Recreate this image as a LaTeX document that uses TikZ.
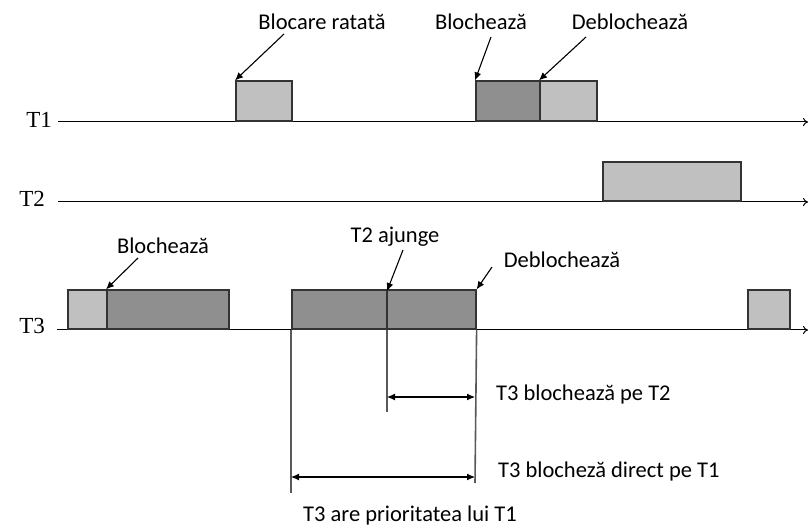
\documentclass[tikz,border=0pt]{standalone}
\usepackage{fontspec}
\setmainfont{Carlito}
\newfontfamily\timesf{Liberation Serif}
\usetikzlibrary{arrows.meta,positioning}

\definecolor{lightgr}{HTML}{C0C0C0}
\definecolor{darkgr}{HTML}{8F8F8F}
\definecolor{edgegr}{HTML}{333333}

\tikzset{
    lightbox/.style={draw=edgegr, line width=1.6pt, fill=lightgr, inner sep=0pt, anchor=south west},
    darkbox/.style={draw=edgegr, line width=1.6pt, fill=darkgr, inner sep=0pt, anchor=south west},
    axis/.style={line width=1pt, -{To[length=5pt,width=8pt]}},
    pointer/.style={line width=1.1pt, -{Latex[length=8pt,width=7pt]}},
    span/.style={line width=1.1pt, {Latex[length=8pt,width=7pt]}-{Latex[length=8pt,width=7pt]}},
    mark line/.style={draw=gray!70!black, line width=1.6pt},
    lbl/.style={font=\fontsize{22.5}{24}\selectfont, inner sep=1pt},
    tname/.style={font=\fontsize{23}{25}\timesf, anchor=east, inner sep=1pt}
}

\begin{document}
\begin{tikzpicture}[x=1pt, y=-1pt]
    \useasboundingbox (0,0) rectangle (808,526);

    % time axes
    \node[tname] (t1) at (53,120) {T1};
    \node[tname] (t2) at (46,199) {T2};
    \node[tname] (t3) at (46,326) {T3};
    \coordinate (s1) at (58,122);
    \coordinate (s2) at (58,202);
    \coordinate (s3) at (57,330);
    \coordinate (e1) at (808,122);
    \coordinate (e2) at (808,202);
    \coordinate (e3) at (808,330);
    \draw[axis] (s1) -- (e1);
    \draw[axis] (s2) -- (e2);
    \draw[axis] (s3) -- (e3);

    % T1
    \node[lightbox, minimum width=56pt, minimum height=40pt] (a1) at (235,122) {};
    \node[darkbox, minimum width=64pt, minimum height=40pt] (a2) at (475,122) {};
    \node[lightbox, minimum width=57pt, minimum height=40pt] (a3) at (539,122) {};

    % T2
    \node[lightbox, minimum width=138pt, minimum height=39pt] (b1) at (602,202) {};

    % T3
    \node[lightbox, minimum width=39pt, minimum height=39pt] (c1) at (67,330) {};
    \node[darkbox, minimum width=122pt, minimum height=39pt] (c2) at (106,330) {};
    \node[darkbox, minimum width=184pt, minimum height=39pt] (c3) at (291,330) {};
    \node[lightbox, minimum width=42pt, minimum height=39pt] (c4) at (747,330) {};
    \draw[edgegr, line width=1.6pt] (387,291) -- (387,330);

    % labels and pointers
    \node[lbl] (l1) at (322,22) {Blocare ratată};
    \node[lbl] (l2) at (481,22) {Blochează};
    \node[lbl] (l3) at (630,22) {Deblochează};
    \node[lbl] (l4) at (163,246) {Blochează};
    \node[lbl] (l5) at (395,237) {T2 ajunge};
    \node[lbl] (l6) at (562,260) {Deblochează};
    \draw[pointer] (284,34) -- (a1.north west);
    \draw[pointer] (491,37) -- (a2.north west);
    \draw[pointer] (586,37) -- (a3.north west);
    \draw[pointer] (138,258) -- (c2.north west);
    \draw[pointer] (403,250) -- (387,291);
    \draw[pointer] (492,267) -- (c3.north east);

    % intervals
    \coordinate (v1) at (291,493);
    \coordinate (v2) at (387,412);
    \coordinate (v3) at (475,483);
    \draw[mark line] (c3.south west) -- (v1);
    \draw[mark line] (387,330) -- (v2);
    \draw[mark line] (c3.south east) -- (v3);
    \draw[span] (387,397) -- (475,397);
    \draw[span] (291,477) -- (475,477);
    \node[lbl, anchor=west] (l7) at (495,395) {T3 blochează pe T2};
    \node[lbl, anchor=west] (l8) at (497,471) {T3 blocheză direct pe T1};
    \node[lbl] (l9) at (410,515) {T3 are prioritatea lui T1};
\end{tikzpicture}
\end{document}
